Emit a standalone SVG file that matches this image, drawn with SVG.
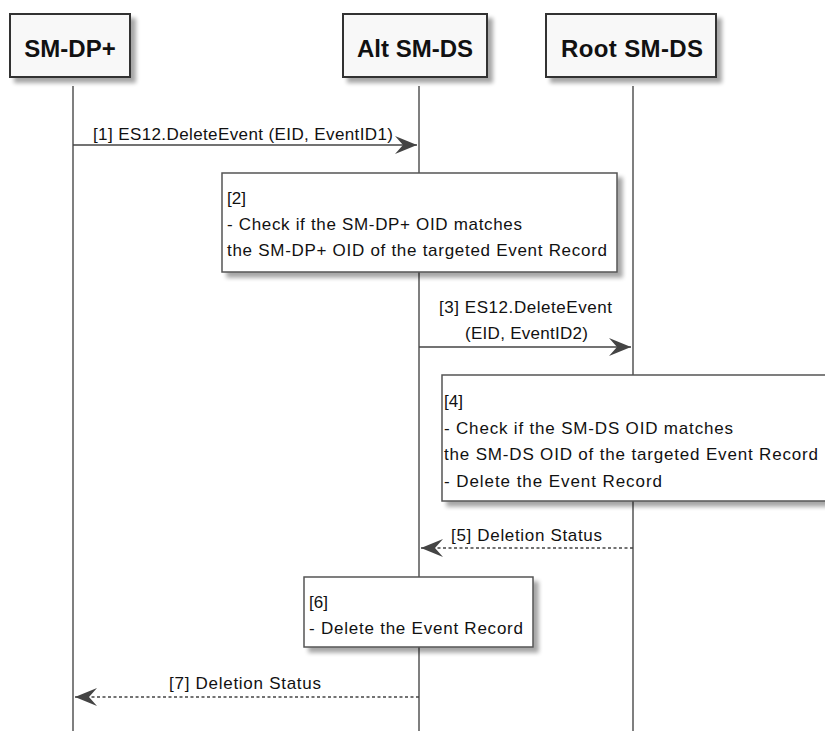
<svg xmlns="http://www.w3.org/2000/svg" width="825" height="731" viewBox="0 0 825 731">
  <style>
    .head { fill: #F8F8F8; stroke: #333333; stroke-width: 2; }
    .htxt { font-family: "Liberation Sans", Arial, sans-serif; font-size: 24px; font-weight: bold; fill: #111111; text-anchor: middle; }
    .life { stroke: #555555; stroke-width: 1.5; fill: none; }
    .note { fill: #FFFFFF; stroke: #555555; stroke-width: 1.5; }
    .txt { font-family: "Liberation Sans", Arial, sans-serif; font-size: 17px; fill: #111111; }
    .msg { stroke: #444444; stroke-width: 1.5; fill: none; }
    .dash { stroke-dasharray: 3 2.5; }
  </style>
  <defs>
    <filter id="sh" x="-10%" y="-10%" width="130%" height="140%">
      <feGaussianBlur in="SourceAlpha" stdDeviation="2.2"/>
      <feOffset dx="5" dy="5" result="b"/>
      <feComponentTransfer><feFuncA type="linear" slope="0.35"/></feComponentTransfer>
      <feMerge><feMergeNode/><feMergeNode in="SourceGraphic"/></feMerge>
    </filter>
    <marker id="arr" markerUnits="userSpaceOnUse" viewBox="0 0 22 18" markerWidth="22" markerHeight="18" refX="22" refY="9" orient="auto">
      <path d="M0,0 L22,9 L0,18 L8,9 Z" fill="#444444"/>
    </marker>
  </defs>
  <rect width="825" height="731" fill="#FFFFFF"/>

  <g id="lifelines">
    <line class="life" x1="73" y1="86" x2="73" y2="731"/>
    <line class="life" x1="419" y1="86" x2="419" y2="731"/>
    <line class="life" x1="633" y1="86" x2="633" y2="731"/>
  </g>

  <g id="sm-dp">
    <rect class="head" x="10" y="14" width="120" height="63" filter="url(#sh)"/>
    <text class="htxt" x="70" y="57">SM-DP+</text>
  </g>
  <g id="alt-sm-ds">
    <rect class="head" x="343" y="14" width="144" height="63" filter="url(#sh)"/>
    <text class="htxt" x="415" y="57">Alt SM-DS</text>
  </g>
  <g id="root-sm-ds">
    <rect class="head" x="546" y="14" width="170" height="63" filter="url(#sh)"/>
    <text class="htxt" x="632" y="57" textLength="142">Root SM-DS</text>
  </g>

  <g id="connectors">
    <line class="msg" x1="73" y1="145" x2="417" y2="145" marker-end="url(#arr)"/>
    <text class="txt" x="93" y="140" textLength="300">[1] ES12.DeleteEvent (EID, EventID1)</text>

    <line class="msg" x1="419" y1="347" x2="631" y2="347" marker-end="url(#arr)"/>
    <text class="txt" x="439" y="313" textLength="173">[3] ES12.DeleteEvent</text>
    <text class="txt" x="465" y="339" textLength="123">(EID, EventID2)</text>

    <line class="msg dash" x1="633" y1="548" x2="421" y2="548" marker-end="url(#arr)"/>
    <text class="txt" x="451" y="541" textLength="151">[5] Deletion Status</text>

    <line class="msg dash" x1="419" y1="697" x2="75" y2="697" marker-end="url(#arr)"/>
    <text class="txt" x="169" y="689" textLength="152">[7] Deletion Status</text>
  </g>

  <g id="note2">
    <rect class="note" x="222" y="173" width="395" height="99" filter="url(#sh)"/>
    <text class="txt" x="227" y="204">[2]</text>
    <text class="txt" x="227" y="230" textLength="295">- Check if the SM-DP+ OID matches</text>
    <text class="txt" x="227" y="256" textLength="380">the SM-DP+ OID of the targeted Event Record</text>
  </g>

  <g id="note4">
    <rect class="note" x="442" y="375" width="420" height="126" filter="url(#sh)"/>
    <text class="txt" x="444" y="407">[4]</text>
    <text class="txt" x="444" y="434" textLength="289">- Check if the SM-DS OID matches</text>
    <text class="txt" x="444" y="460" textLength="374">the SM-DS OID of the targeted Event Record</text>
    <text class="txt" x="444" y="487" textLength="218">- Delete the Event Record</text>
  </g>

  <g id="note6">
    <rect class="note" x="304" y="577" width="229" height="70" filter="url(#sh)"/>
    <text class="txt" x="309" y="608">[6]</text>
    <text class="txt" x="309" y="634" textLength="214">- Delete the Event Record</text>
  </g>
</svg>
